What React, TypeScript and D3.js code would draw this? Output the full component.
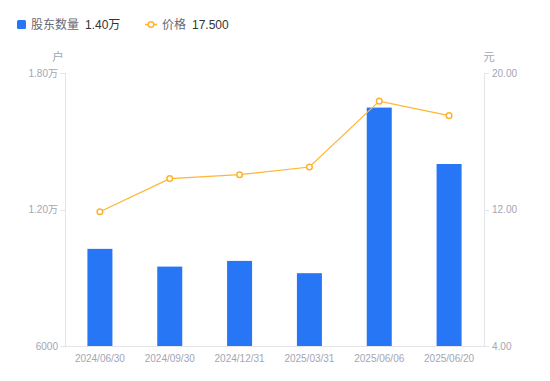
import React from "react";
import * as d3 from "d3";

const categories = ["2024/06/30", "2024/09/30", "2024/12/31", "2025/03/31", "2025/06/06", "2025/06/20"];
const holders = [10270, 9490, 9740, 9200, 16480, 14000];
const prices = [11.87, 13.81, 14.04, 14.49, 18.35, 17.5];
const leftTicks = [6000, 12000, 18000];
const rightTicks = [4, 12, 20];

const W = 550, H = 381;
const M = { left: 65, right: 66, top: 73, bottom: 35 };
const FONT = "'Liberation Sans', Arial, 'Noto Sans CJK SC', sans-serif";

const fmtLeft = (v: number) => (v >= 10000 ? (v / 10000).toFixed(2) + "万" : String(v));

export default function App() {
  const x = d3.scaleBand<string>().domain(categories).range([M.left, W - M.right]).padding(0);
  const yL = d3.scaleLinear().domain([6000, 18000]).range([H - M.bottom, M.top]);
  const yR = d3.scaleLinear().domain([4, 20]).range([H - M.bottom, M.top]);
  const barW = 25;
  const cx = (c: string) => (x(c) as number) + x.bandwidth() / 2;
  const line = d3.line<number>().x((_, i) => cx(categories[i])).y((d) => yR(d));
  const x0 = M.left, x1 = W - M.right, yb = H - M.bottom;
  const axisColor = "#E3E5EA";
  const tickText = "#A3A6B4";

  return (
    <svg width={W} height={H} style={{ position: "absolute", left: 0, top: 0, fontFamily: FONT }}>
      <rect width={W} height={H} fill="#fff" />
      {/* legend */}
      <rect x={17} y={20} width={9} height={9} rx={1.5} fill="#2776F6" />
      <text x={31} y={28.5} fontSize={12} fill="#666a75">股东数量</text>
      <text x={85} y={28.5} fontSize={12} fill="#333">1.40万</text>
      <line x1={145} x2={157} y1={24.5} y2={24.5} stroke="#FFB22F" strokeWidth={1.5} />
      <circle cx={151} cy={24.5} r={2.8} fill="#fff" stroke="#FFB22F" strokeWidth={1.5} />
      <text x={162} y={28.5} fontSize={12} fill="#666a75">价格</text>
      <text x={192} y={28.5} fontSize={12} fill="#333">17.500</text>

      {/* unit labels */}
      <text x={58} y={61} fontSize={11.5} fill={tickText} textAnchor="middle">户</text>
      <text x={489} y={61} fontSize={11.5} fill={tickText} textAnchor="middle">元</text>

      {/* axes */}
      <line x1={x0 + 0.5} x2={x0 + 0.5} y1={M.top} y2={yb} stroke={axisColor} />
      <line x1={x1 + 0.5} x2={x1 + 0.5} y1={M.top} y2={yb} stroke={axisColor} />
      <line x1={x0} x2={x1} y1={yb + 0.5} y2={yb + 0.5} stroke={axisColor} />
      {leftTicks.map((t) => (
        <g key={"l" + t}>
          <line x1={x0 - 5} x2={x0} y1={Math.round(yL(t)) + 0.5} y2={Math.round(yL(t)) + 0.5} stroke={axisColor} />
          <text x={x0 - 7} y={yL(t) + 3.5} fontSize={10} fill={tickText} textAnchor="end">{fmtLeft(t)}</text>
        </g>
      ))}
      {rightTicks.map((t) => (
        <g key={"r" + t}>
          <line x1={x1} x2={x1 + 5} y1={Math.round(yR(t)) + 0.5} y2={Math.round(yR(t)) + 0.5} stroke={axisColor} />
          <text x={x1 + 8} y={yR(t) + 3.5} fontSize={10} fill={tickText} textAnchor="start">{t.toFixed(2)}</text>
        </g>
      ))}
      {categories.map((c) => (
        <text key={c} x={cx(c)} y={yb + 15.5} fontSize={10} fill={tickText} textAnchor="middle">{c}</text>
      ))}

      {/* bars */}
      {holders.map((v, i) => (
        <rect key={i} x={cx(categories[i]) - barW / 2} y={yL(v)} width={barW} height={yb - yL(v)} fill="#2776F6" />
      ))}

      {/* line */}
      <path d={line(prices) || ""} fill="none" stroke="#FFB534" strokeWidth={1.2} />
      {prices.map((p, i) => (
        <circle key={i} cx={cx(categories[i])} cy={yR(p)} r={2.8} fill="#fff" stroke="#FFB22F" strokeWidth={1.5} />
      ))}
    </svg>
  );
}
